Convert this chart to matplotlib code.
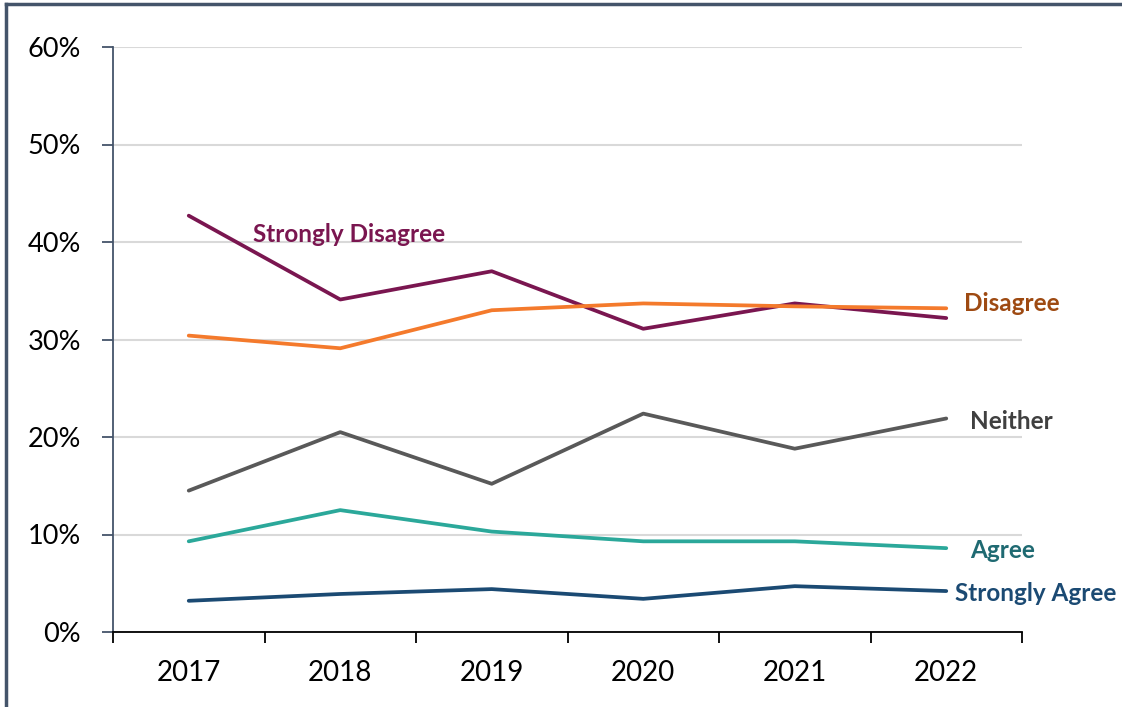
import matplotlib
matplotlib.use("Agg")
import matplotlib.pyplot as plt
from matplotlib.lines import Line2D

years = ["2017", "2018", "2019", "2020", "2021", "2022"]
strongly_disagree = [42.7, 34.1, 37.0, 31.1, 33.7, 32.2]
disagree = [30.4, 29.1, 33.0, 33.7, 33.4, 33.2]
neither = [14.5, 20.5, 15.2, 22.4, 18.8, 21.9]
agree = [9.3, 12.5, 10.3, 9.3, 9.3, 8.6]
strongly_agree = [3.2, 3.9, 4.4, 3.4, 4.7, 4.2]
yticks = [0, 10, 20, 30, 40, 50, 60]

plt.rcParams['font.family'] = ['Lato', 'DejaVu Sans']

fig = plt.figure(figsize=(11.22, 7.07), dpi=100)
ax = fig.add_axes([113/1122, 1-632/707, (1022-113)/1122, (632-47)/707])

x = list(range(len(years)))
series = [
    (strongly_disagree, "#7A1650", "Strongly Disagree", "#7A1650", 1.06, 40.8, "center"),
    (disagree, "#F47A2C", "Disagree", "#9E4A12", 5.12, 33.7, "left"),
    (neither, "#595959", "Neither", "#404040", 5.16, 21.6, "left"),
    (agree, "#2BA89A", "Agree", "#1F6A72", 5.16, 8.4, "left"),
    (strongly_agree, "#1B4A73", "Strongly Agree", "#1B4A73", 5.06, 3.9, "left"),
]
for vals, col, lab, tcol, lx, ly, ha in series:
    ax.plot(x, vals, color=col, lw=2.7, solid_capstyle='round', zorder=3)
    ax.text(lx, ly, lab, color=tcol, fontsize=17.5, fontweight='bold',
            ha=ha, va='center', zorder=4)

ax.set_xlim(-0.5, 5.5)
ax.set_ylim(0, 60)
ax.set_yticks(yticks)
ax.set_yticklabels([f"{v}%" for v in yticks], fontsize=19.5)
ax.set_xticks(x)
ax.set_xticklabels(years, fontsize=20)
ax.set_xticks([i - 0.5 for i in range(len(years) + 1)], minor=True)
ax.tick_params(axis='x', which='major', length=0, pad=20)
ax.tick_params(axis='x', which='minor', length=8, width=1.3, color='black', direction='out')
ax.tick_params(axis='y', length=8, width=1.3, color='#44546A', pad=15)
ax.grid(axis='y', color='#D9D9D9', lw=1.5, zorder=0)
ax.set_axisbelow(True)
for s in ['top', 'right']:
    ax.spines[s].set_visible(False)
ax.spines['left'].set_color('#44546A')
ax.spines['left'].set_linewidth(1.3)
ax.spines['bottom'].set_color('black')
ax.spines['bottom'].set_linewidth(1.3)

# outer frame (left and top edges)
fig.add_artist(Line2D([6/1122, 6/1122], [0, 1-4/707], transform=fig.transFigure,
                      color='#44546A', lw=2.5))
fig.add_artist(Line2D([6/1122, 1], [1-4/707, 1-4/707], transform=fig.transFigure,
                      color='#44546A', lw=2.5))

fig.savefig("out.png", dpi=100)
